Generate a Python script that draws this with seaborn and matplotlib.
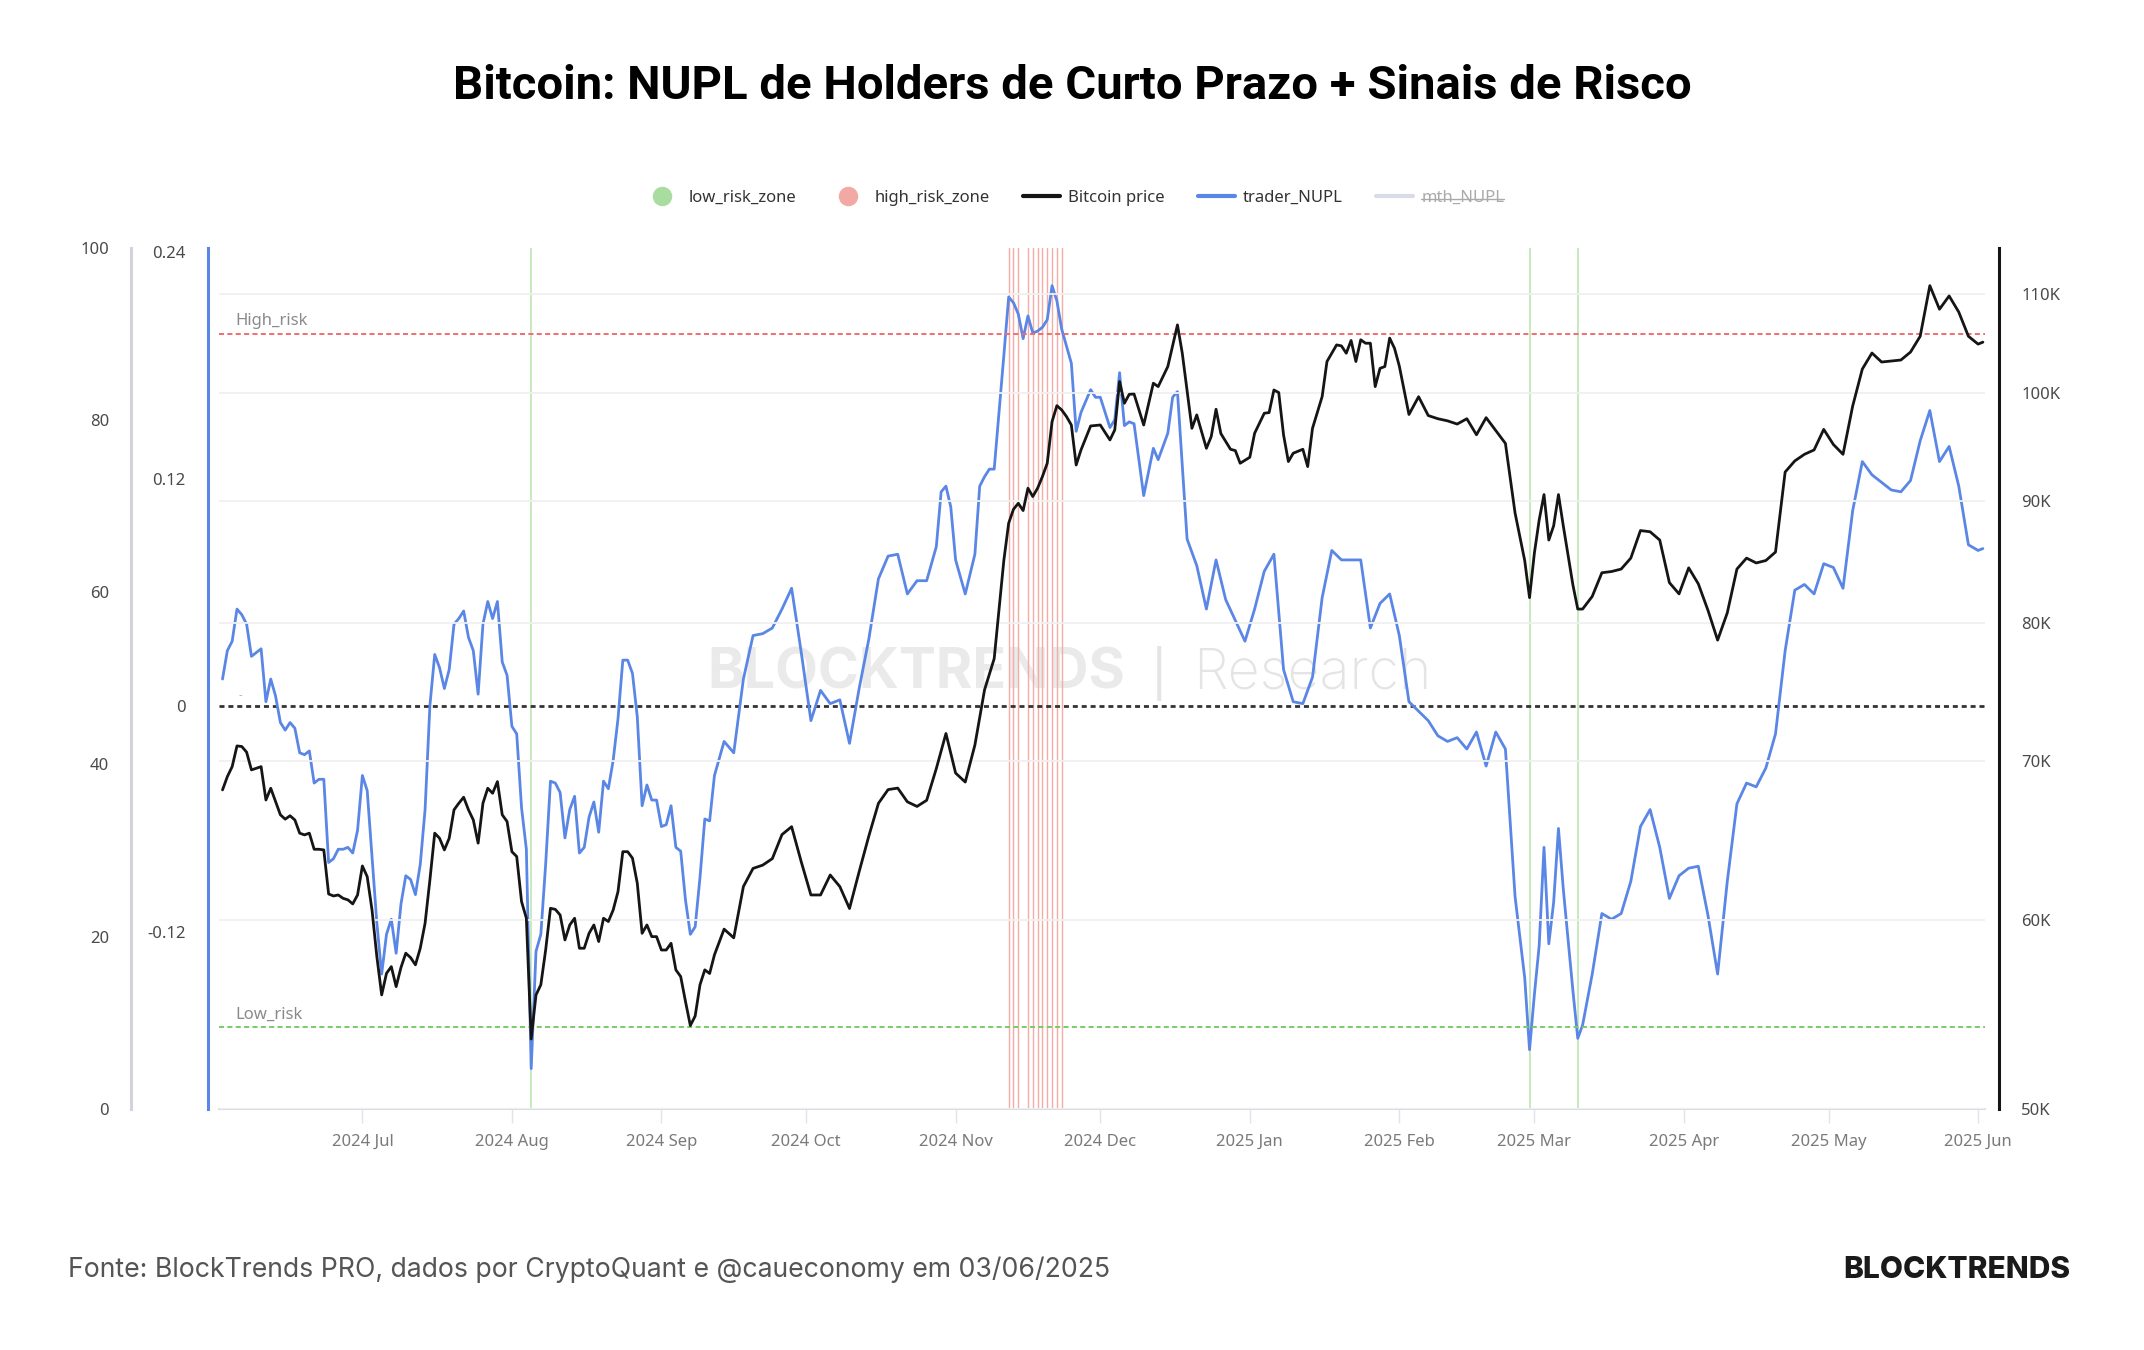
import numpy as np
import pandas as pd
import matplotlib
matplotlib.use("Agg")
import matplotlib.pyplot as plt
import matplotlib.dates as mdates
from matplotlib.lines import Line2D
from matplotlib.ticker import FixedLocator, NullLocator
import seaborn as sns

# ---------------- data ----------------
start_date = "2024-06-02"   # day 0

# Bitcoin price (USD), days since start_date
price_days = list(range(0, 103)) + [
    104, 106, 108, 110, 112, 114, 116, 118, 120, 122, 124, 126, 128, 130, 132, 134,
    136, 138, 140, 142, 144, 146, 148, 150, 152, 154, 156, 158, 160, 162,
    163, 164, 165, 166, 167, 168, 169, 170, 171, 172, 173, 174, 175, 176, 177, 178,
    180, 182, 184, 185, 186, 187, 188, 189, 191, 193, 194, 196, 198, 199, 201, 202,
    204, 205, 206, 207, 209, 210, 211, 213, 214, 216, 217, 218, 219, 220, 221, 222,
    224, 225, 226, 228, 229, 231, 232, 233, 234, 235, 236, 237, 238, 239, 240, 241,
    242, 243,
    244, 246, 248, 250, 252, 254, 256, 258, 260, 262, 264, 266, 268, 270,
    271, 272, 273, 274, 275, 276, 277, 278, 280, 281, 282,
    284, 286, 288, 290, 292, 294, 296, 298, 300, 302, 304, 306, 308, 310, 312, 314,
    316, 318, 320, 322, 324, 326, 328, 330, 332, 334, 336, 338, 340, 342, 344, 346,
    348, 350, 352, 354, 356, 358, 360, 362, 364, 365]

bitcoin_price = [
    68080, 68960, 69630, 71040, 71000, 70610, 69410, 69520, 69630, 67420,
    68190, 67320, 66460, 66180, 66400, 66130, 65290, 65180, 65290, 64280,
    64280, 64240, 61560, 61440, 61500, 61300, 61210, 60970, 61500, 63250,
    62600, 60610, 57940, 55830, 57010, 57380, 56280, 57330, 58130, 57880,
    57480, 58410, 59840, 62400, 65290, 64970, 64240, 64970, 66780, 67210,
    67600, 66780, 66130, 64660, 67210, 68190, 67860, 68630, 66460, 66030,
    64130, 63830, 61110, 60130, 53500, 55830, 56380, 58310, 60710, 60650,
    60320, 58880, 59740, 60130, 58410, 58410, 59260, 59740, 58790, 60130,
    59940, 60610, 61700, 64130, 64130, 63730, 62200, 59260, 59740, 59070,
    59070, 58310, 58310, 58690, 57200, 56830, 55470, 54200, 54700, 56380,
    57200, 57000, 58040,
    59500, 59000, 62000, 63100, 63300, 63700, 65200, 65700, 63500, 61500, 61500, 62700, 62000, 60700, 62900, 65100,
    67200, 68100, 68200, 67300, 67000, 67400, 69500, 71900, 69200, 68600, 71100, 75000, 77300, 85000,
    88120, 89320, 89840, 89210, 91160, 90430, 91160, 92190, 93390, 97230, 98740, 98330, 97700, 96910, 93230, 94600,
    96820, 96910, 95520, 96450, 101070, 98970, 99830, 99860, 96910, 100910, 100580, 102550, 106770, 103880, 96600, 97860,
    94750, 95830, 98400, 96110, 94660, 94540, 93390, 93930, 96140, 98020, 98080, 100250, 100000, 95980, 93540, 94300,
    94660, 93090, 96600, 99610, 103050, 104720, 104620, 103880, 105170, 103050, 105240, 104890, 104890, 100580, 102370, 102550,
    105410, 104380,
    102600, 97900, 99600, 97800, 97500, 97300, 97000, 97500, 96000, 97600, 96400, 95200, 89000, 85000,
    82000, 85600, 88400, 90600, 86700, 87900, 90600, 87900, 83000, 81100, 81100,
    82100, 84000, 84100, 84300, 85200, 87500, 87400, 86700, 83200, 82300, 84400, 83100, 81000, 78700, 80800, 84300,
    85200, 84800, 85000, 85700, 92600, 93600, 94200, 94600, 96500, 95100, 94200, 98700, 102300, 103900, 103000, 103100,
    103200, 104000, 105600, 110900, 108400, 109800, 108100, 105600, 104800, 105000]

# trader_NUPL, days since start_date
nupl_days = list(range(0, 103)) + [
    104, 106, 108, 110, 112, 114, 116, 118, 120, 122, 124, 126, 128, 130, 132, 134,
    136, 138, 140, 142, 144, 146, 148, 149, 150, 151, 152, 154, 156, 157, 158, 159,
    160, 161, 162, 163, 164, 165, 166, 167, 168, 169, 170, 171, 172, 173, 174, 176,
    177, 178, 180, 181, 182, 184, 185, 186, 187, 188, 189, 191, 193, 194, 196, 197,
    198, 200,
    202, 204, 206, 208, 210, 212, 214, 216, 218, 220, 222, 224, 226, 228, 230,
    232, 234, 236, 238, 240, 242, 244, 246, 248, 250, 252, 254, 256, 258, 260, 262,
    264, 266, 268, 270,
    271, 272, 273, 274, 275, 276, 277, 278, 280, 281, 282,
    284, 286, 288, 290, 292, 294, 296, 298, 300, 302, 304, 306, 308, 310, 312, 314,
    316, 318, 320, 322, 324, 326, 328, 330, 332, 334, 336, 338, 340, 342, 344, 346,
    348, 350, 352, 354, 356, 358, 360, 362, 364, 365]

trader_nupl = [
    0.014, 0.029, 0.034, 0.051, 0.048, 0.043, 0.026, 0.028, 0.030, 0.002,
    0.014, 0.005, -0.009, -0.013, -0.009, -0.012, -0.025, -0.026, -0.024, -0.041,
    -0.039, -0.039, -0.083, -0.081, -0.076, -0.076, -0.075, -0.078, -0.066, -0.037,
    -0.045, -0.080, -0.115, -0.142, -0.121, -0.113, -0.131, -0.105, -0.090, -0.092,
    -0.100, -0.084, -0.055, 0.000, 0.027, 0.020, 0.009, 0.019, 0.043, 0.046,
    0.050, 0.036, 0.029, 0.006, 0.043, 0.055, 0.046, 0.055, 0.023, 0.016,
    -0.011, -0.015, -0.054, -0.076, -0.192, -0.130, -0.121, -0.084, -0.040, -0.041,
    -0.046, -0.070, -0.055, -0.048, -0.078, -0.075, -0.059, -0.051, -0.067, -0.040,
    -0.044, -0.029, -0.007, 0.024, 0.024, 0.017, -0.006, -0.053, -0.042, -0.050,
    -0.050, -0.064, -0.063, -0.053, -0.075, -0.077, -0.103, -0.121, -0.117, -0.091,
    -0.060, -0.061, -0.037,
    -0.019, -0.025, 0.014, 0.037, 0.038, 0.041, 0.051, 0.062, 0.028, -0.008, 0.008, 0.001, 0.003, -0.020, 0.009, 0.035,
    0.067, 0.079, 0.080, 0.059, 0.066, 0.066, 0.084, 0.113, 0.116, 0.105, 0.077, 0.059, 0.080, 0.116, 0.121, 0.125,
    0.125, 0.155, 0.185, 0.216, 0.213, 0.207, 0.194, 0.206, 0.197, 0.198, 0.200, 0.204, 0.222, 0.214, 0.199, 0.181,
    0.145, 0.155, 0.167, 0.163, 0.163, 0.147, 0.151, 0.176, 0.148, 0.150, 0.149, 0.111, 0.136, 0.130, 0.144, 0.163,
    0.166, 0.088,
    0.074, 0.051, 0.077, 0.056, 0.045, 0.034, 0.051, 0.071, 0.080, 0.019, 0.002, 0.001, 0.015, 0.057, 0.082,
    0.077, 0.077, 0.077, 0.041, 0.054, 0.059, 0.037, 0.002, -0.003, -0.008, -0.016, -0.019, -0.017, -0.023, -0.014, -0.032,
    -0.014, -0.023, -0.101, -0.144,
    -0.182, -0.153, -0.127, -0.075, -0.126, -0.104, -0.065, -0.097, -0.151, -0.176, -0.169,
    -0.142, -0.110, -0.113, -0.110, -0.093, -0.064, -0.055, -0.075, -0.102, -0.090, -0.086, -0.085, -0.111, -0.142, -0.093, -0.052,
    -0.041, -0.043, -0.033, -0.015, 0.029, 0.061, 0.064, 0.059, 0.075, 0.073, 0.062, 0.103, 0.129, 0.122, 0.118, 0.114,
    0.113, 0.119, 0.140, 0.156, 0.129, 0.137, 0.116, 0.085, 0.082, 0.083]

low_risk_zone_days = [64, 271, 281]
high_risk_zone_days = [163, 164, 165, 167, 168, 169, 170, 171, 172, 173, 174]
high_risk_level = 90     # on the 0-100 scale
low_risk_level = 9.5

nupl_ticks = [-0.12, 0, 0.12, 0.24]
nupl_tick_labels = ["-0.12", "0", "0.12", "0.24"]
score_ticks = [0, 20, 40, 60, 80, 100]
price_ticks = [50000, 60000, 70000, 80000, 90000, 100000, 110000]
price_tick_labels = ["50K", "60K", "70K", "80K", "90K", "100K", "110K"]

title = "Bitcoin: NUPL de Holders de Curto Prazo + Sinais de Risco"
source = "Fonte: BlockTrends PRO, dados por CryptoQuant e @caueconomy em 03/06/2025"

# ---------------- styling ----------------
sns.set_theme(style="white")
plt.rcParams["font.family"] = ["Noto Sans", "DejaVu Sans"]

BLUE = "#5a86e6"
BLACK = "#151515"
GREEN_V = "#b9e3ae"
RED_V = "#f4aca7"

start = pd.Timestamp(start_date)
df_price = pd.DataFrame({"date": start + pd.to_timedelta(price_days, unit="D"),
                         "price": bitcoin_price})
df_nupl = pd.DataFrame({"date": start + pd.to_timedelta(nupl_days, unit="D"),
                        "nupl": trader_nupl})

W, H = 2144, 1350
fig = plt.figure(figsize=(W / 100, H / 100), dpi=100)
L, R, T, B = 218.8, 1985.3, 247.5, 1108.9
ax = fig.add_axes([L / W, 1 - B / H, (R - L) / W, (B - T) / H])
ax_out = ax.twinx()
ax_px = ax.twinx()
for a in (ax, ax_out, ax_px):
    a.set_facecolor("none")
    for s in a.spines.values():
        s.set_visible(False)

# x axis
ax.set_xlim(start - pd.Timedelta(days=0.77), start + pd.Timedelta(days=365.5))
ax.xaxis.set_major_locator(mdates.MonthLocator())
ax.xaxis.set_major_formatter(mdates.DateFormatter("%Y %b"))
ax.spines["bottom"].set_visible(True)
ax.spines["bottom"].set_color("#dcdce4")
ax.spines["bottom"].set_linewidth(1.5)
ax.tick_params(axis="x", bottom=True, length=10, width=1, color="#e2e2e8",
               pad=8, labelsize=12, labelcolor="#7a7a7a")

# trader NUPL axis (blue, inner left)
ax.set_ylim(-0.2133, 0.2422)
ax.yaxis.set_major_locator(FixedLocator(nupl_ticks))
ax.set_yticklabels(nupl_tick_labels)
ax.spines["left"].set_visible(True)
ax.spines["left"].set_position(("outward", 7.8))
ax.spines["left"].set_color(BLUE)
ax.spines["left"].set_linewidth(2.2)
ax.tick_params(axis="y", left=True, length=0, pad=16, labelsize=12, labelcolor="#4a4a4a")

# 0-100 axis (gray, outer left)
ax_out.set_ylim(0, 100)
ax_out.yaxis.tick_left()
ax_out.yaxis.set_label_position("left")
ax_out.yaxis.set_major_locator(FixedLocator(score_ticks))
ax_out.spines["left"].set_visible(True)
ax_out.spines["left"].set_position(("outward", 63))
ax_out.spines["left"].set_color("#d3d3de")
ax_out.spines["left"].set_linewidth(2.2)
ax_out.tick_params(axis="y", left=True, right=False, labelleft=True, labelright=False,
                   length=0, pad=16, labelsize=12, labelcolor="#4a4a4a")

# price axis (black, right, log)
ax_px.set_yscale("log")
ax_px.set_ylim(50000, 115070)
ax_px.yaxis.set_major_locator(FixedLocator(price_ticks))
ax_px.yaxis.set_minor_locator(NullLocator())
ax_px.set_yticklabels(price_tick_labels)
ax_px.spines["right"].set_visible(True)
ax_px.spines["right"].set_position(("outward", 9.9))
ax_px.spines["right"].set_color(BLACK)
ax_px.spines["right"].set_linewidth(2.2)
ax_px.tick_params(axis="y", right=True, length=0, pad=16, labelsize=12, labelcolor="#4a4a4a")
ax_px.grid(axis="y", color="#f0f0f0", lw=1.3)
ax_px.set_axisbelow(True)

# zone lines
for d in low_risk_zone_days:
    ax.axvline(start + pd.Timedelta(days=d), color=GREEN_V, lw=1.1, zorder=1)
for d in high_risk_zone_days:
    ax.axvline(start + pd.Timedelta(days=d), color=RED_V, lw=1.0, zorder=1)

# watermark
ax.text(0.3947, 0.505, "BLOCKTRENDS", transform=ax.transAxes, ha="center", va="center",
        fontsize=40, fontweight="bold", color="#eaeaea", family=["Inter", "DejaVu Sans"], zorder=0)
ax.text(0.532, 0.505, "|", transform=ax.transAxes, ha="center", va="center",
        fontsize=40, fontweight="light", color="#e4e4e4", zorder=0)
ax.text(0.619, 0.505, "Research", transform=ax.transAxes, ha="center", va="center",
        fontsize=40, fontweight="light", color="#e4e4e4", family=["Inter", "DejaVu Sans"], zorder=0)

# reference lines
ax.axhline(0, color="#333333", lw=2.0, ls=(0, (1.8, 1.4)), zorder=2)
ax_out.axhline(high_risk_level, color="#ef6e6e", lw=1.4, ls=(0, (2.6, 1.7)), zorder=2)
ax_out.axhline(low_risk_level, color="#77cc66", lw=1.4, ls=(0, (2.6, 1.7)), zorder=2)
ax_out.annotate("High_risk", xy=(0.0092, high_risk_level), xycoords=("axes fraction", "data"),
                xytext=(0, 3), textcoords="offset points", ha="left", va="bottom",
                fontsize=12, color="#8a8a8a")
ax_out.annotate("Low_risk", xy=(0.0092, low_risk_level), xycoords=("axes fraction", "data"),
                xytext=(0, 3), textcoords="offset points", ha="left", va="bottom",
                fontsize=12, color="#8a8a8a")
ax.annotate("-", xy=(0.011, 0), xycoords=("axes fraction", "data"), xytext=(0, 3),
            textcoords="offset points", ha="left", va="bottom", fontsize=8, color="#aaaaaa")

# series
sns.lineplot(data=df_nupl, x="date", y="nupl", ax=ax, color=BLUE, lw=2.0, legend=False, zorder=3)
sns.lineplot(data=df_price, x="date", y="price", ax=ax_px, color=BLACK, lw=2.0, legend=False, zorder=3)
for a in (ax, ax_out, ax_px):
    a.set_xlabel("")
    a.set_ylabel("")

# legend
handles = [
    Line2D([], [], marker="o", ls="none", markersize=13, color="#a9dd9f"),
    Line2D([], [], marker="o", ls="none", markersize=13, color="#f3a9a3"),
    Line2D([], [], color=BLACK, lw=3),
    Line2D([], [], color=BLUE, lw=3),
    Line2D([], [], color="#d9dbe6", lw=3),
]
labels = ["low_risk_zone", "high_risk_zone", "Bitcoin price", "trader_NUPL", "mth_NUPL"]
leg = fig.legend(handles, labels, loc="center", bbox_to_anchor=(1074 / W, 1 - 198 / H),
                 ncol=5, frameon=False, fontsize=12, handlelength=2.2,
                 columnspacing=2.0, handletextpad=0.5)
for i, t in enumerate(leg.get_texts()):
    t.set_color("#aaaaaa" if i == 4 else "#333333")

# titles
fig.text(0.5, 1 - 86 / H, title, ha="center", va="center", fontsize=34,
         fontweight="bold", color="#000000", family=["Roboto", "DejaVu Sans"])
fig.text(68 / W, 1 - 1270 / H, source, ha="left", va="center", fontsize=19.2,
         color="#555555", family=["Inter", "DejaVu Sans"])
fig.text(2070 / W, 1 - 1270 / H, "BLOCKTRENDS", ha="right", va="center", fontsize=21.5,
         fontweight="heavy", color="#1a1a1a", family=["Inter", "DejaVu Sans"])

# strike-through for hidden series label
fig.canvas.draw()
bb = leg.get_texts()[4].get_window_extent()
ym = (bb.y0 + bb.y1) / 2 - 1
fig.add_artist(Line2D([bb.x0 / W, bb.x1 / W], [ym / H, ym / H], color="#aaaaaa", lw=1.0,
                      transform=fig.transFigure))

fig.savefig("out.png", dpi=100)
